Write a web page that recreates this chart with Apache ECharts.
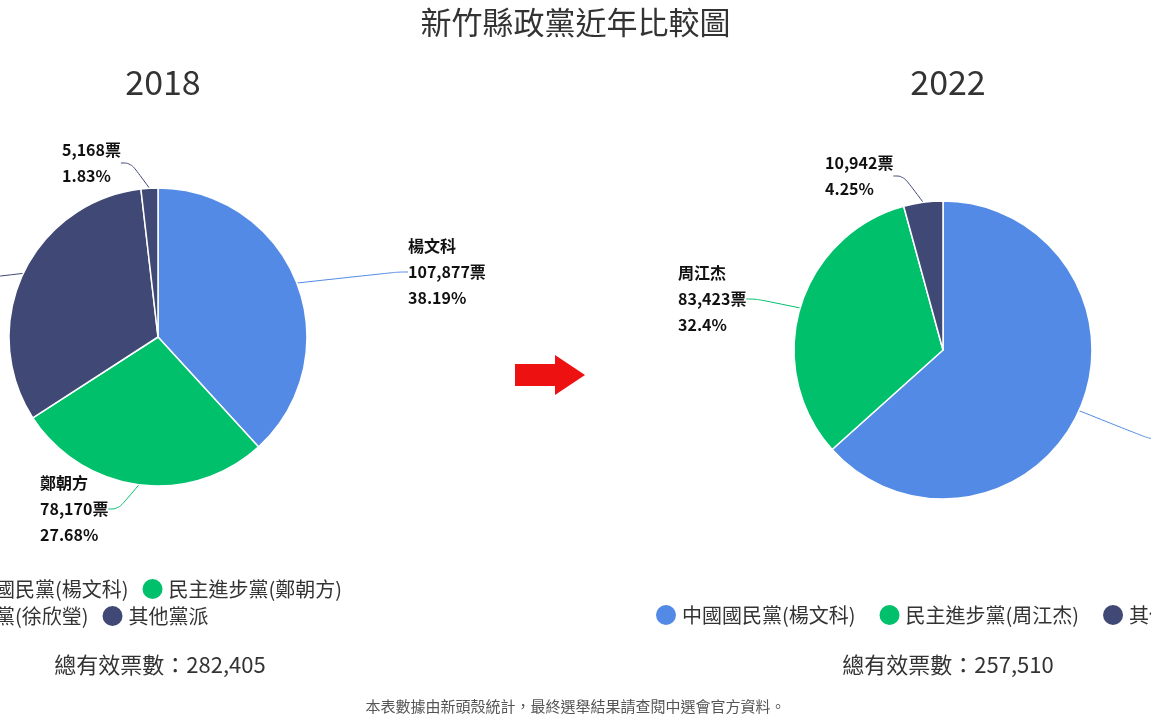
<!DOCTYPE html>
<html><head><meta charset="utf-8">
<script src="https://cdn.jsdelivr.net/npm/echarts@6/dist/echarts.min.js"></script>
<style>html,body{margin:0;padding:0;background:#fff}#main{width:1151px;height:717px}</style>
</head><body><div id="main"></div>
<script>
// 2018 與 2022 新竹縣長得票
var names2018 = ['中國國民黨(楊文科)', '民主進步黨(鄭朝方)', '民國黨(徐欣瑩)', '其他黨派'];
var cand2018 = ['楊文科', '鄭朝方', '徐欣瑩', ''];
var votes2018 = [107877, 78170, 91190, 5168];
var pct2018 = [38.19, 27.68, 32.30, 1.83];
var names2022 = ['中國國民黨(楊文科)', '民主進步黨(周江杰)', '其他黨派'];
var cand2022 = ['楊文科', '周江杰', ''];
var votes2022 = [163145, 83423, 10942];
var pct2022 = [63.35, 32.4, 4.25];
var colors = { '中國國民黨': '#528ae6', '民主進步黨': '#00c06b', '民國黨': '#404875', '其他黨派': '#404875' };
// 標籤位置（左上角）
var labelPos2018 = [[408, 233], [40, 470], [-120, 250], [62, 137]];
var labelPos2022 = [[1160, 400], [678, 260], [825, 150]];

function colorOf(n) {
  for (var k in colors) { if (n.indexOf(k) === 0) return colors[k]; }
  return '#404875';
}
function buildData(names, votes, cands, pcts) {
  return names.map(function (n, i) {
    return { name: n, value: votes[i], cand: cands[i], pct: pcts[i], itemStyle: { color: colorOf(n) } };
  });
}
function fmt(n) { return n.toLocaleString('en-US'); }

var data2018 = buildData(names2018, votes2018, cand2018, pct2018);
var data2022 = buildData(names2022, votes2022, cand2022, pct2022);

function labelFmt(p) {
  var s = fmt(p.value) + '票\n' + p.data.pct + '%';
  return p.data.cand ? p.data.cand + '\n' + s : s;
}
function pie(data, center, pos) {
  return {
    type: 'pie', radius: 149, center: center, startAngle: 90, clockwise: true,
    data: data, legendHoverLink: false,
    itemStyle: { borderColor: '#fff', borderWidth: 1.5 },
    label: { formatter: labelFmt, color: '#111', fontSize: 16, fontWeight: 'bold', lineHeight: 26,
      fontFamily: 'Noto Sans CJK TC', align: 'left' },
    labelLine: { show: true, smooth: 0.4, length: 12, length2: 10, lineStyle: { width: 1 } },
    labelLayout: function (p) { var q = pos[p.dataIndex]; return { x: q[0], y: q[1], align: 'left', verticalAlign: 'top' }; }
  };
}

var myChart = echarts.init(document.getElementById('main'));
var font = 'Noto Sans CJK TC';
var legendBase = { icon: 'circle', itemWidth: 22, itemHeight: 22, itemGap: 12, selectedMode: false, orient: 'horizontal' };
function legend(extra, textWidth) {
  var l = Object.assign({}, legendBase, extra);
  l.textStyle = { fontSize: 20, color: '#333', fontFamily: font };
  if (textWidth) l.textStyle.width = textWidth;
  return l;
}
var option = {
  backgroundColor: '#fff',
  textStyle: { fontFamily: font },
  title: [
    { text: '新竹縣政黨近年比較圖', left: 'center', top: 2, textStyle: { fontSize: 31, fontWeight: 'normal', color: '#333', fontFamily: font } },
    { text: '2018', left: 158, top: 60, textAlign: 'center', textStyle: { fontSize: 34, fontWeight: 'normal', color: '#333', fontFamily: font } },
    { text: '2022', left: 943, top: 60, textAlign: 'center', textStyle: { fontSize: 34, fontWeight: 'normal', color: '#333', fontFamily: font } },
    { text: '總有效票數：' + fmt(votes2018.reduce(function (a, b) { return a + b; })), left: 155, top: 649, textAlign: 'center', textStyle: { fontSize: 22, fontWeight: 'normal', color: '#333', fontFamily: font } },
    { text: '總有效票數：' + fmt(votes2022.reduce(function (a, b) { return a + b; })), left: 943, top: 649, textAlign: 'center', textStyle: { fontSize: 22, fontWeight: 'normal', color: '#333', fontFamily: font } },
    { text: '本表數據由新頭殼統計，最終選舉結果請查閱中選會官方資料。', left: 'center', top: 694, textStyle: { fontSize: 15, fontWeight: 'normal', color: '#555', fontFamily: font } }
  ],
  legend: [
    legend({ data: names2018.slice(0, 2), left: -78, top: 572, width: 600 }, 200),
    legend({ data: names2018.slice(2), left: -78, top: 599, width: 600 }, 200),
    legend({ data: names2022, left: 649, top: 598, width: 900, itemGap: 22 })
  ],
  graphic: [{
    type: 'polygon', shape: { points: [[515, 364], [555, 364], [555, 355], [585, 375], [555, 395], [555, 386], [515, 386]] },
    style: { fill: '#ee1111' }
  }],
  series: [pie(data2018, [158, 337], labelPos2018), pie(data2022, [943, 350], labelPos2022)]
};
myChart.setOption(option, true);
</script></body></html>
